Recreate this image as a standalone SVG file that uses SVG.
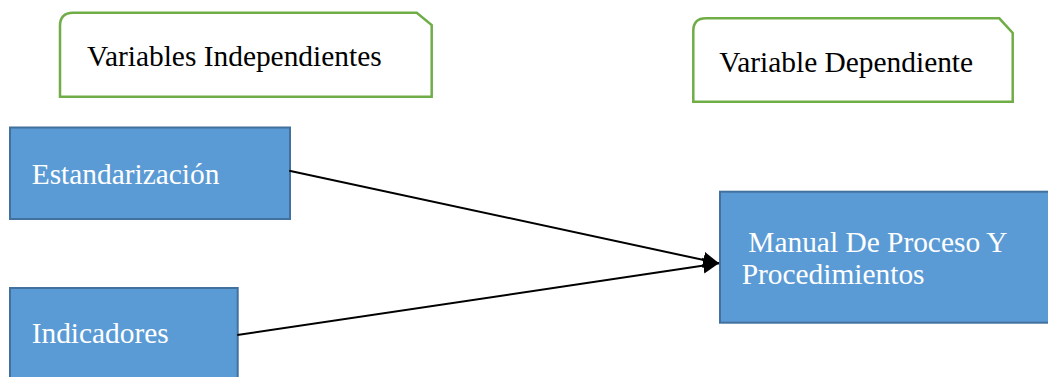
<svg xmlns="http://www.w3.org/2000/svg" width="1048" height="377" viewBox="0 0 1048 377">
<style>
.lbl{fill:#FFFFFF;stroke:#70AD47;stroke-width:2.5}
.box{fill:#5B9BD5;stroke:#41719C;stroke-width:2}
.t{font-family:"Liberation Serif","Times New Roman",serif;font-size:29.4px}
.dark{fill:#000000}
.light{fill:#FFFFFF}
.conn{stroke:#000000;stroke-width:2;fill:none}
</style>
<defs>
<marker id="arr2" viewBox="0 0 10 10" refX="10" refY="5" markerWidth="16" markerHeight="18" markerUnits="userSpaceOnUse" orient="auto">
<path d="M0,0 L10,5 L0,10 Z" fill="#000000"/>
</marker>
</defs>
<g id="label-independientes">
<path class="lbl" d="M60,96.7 L60,26 Q60,12.7 73,12.7 L416.7,12.7 L431.7,25 L431.7,96.7 Z"/>
<text class="t dark" x="87" y="66">Variables Independientes</text>
</g>
<g id="label-dependiente">
<path class="lbl" d="M693.3,101.7 L693.3,31 Q693.3,18.3 706,18.3 L999.3,18.3 L1012.7,33 L1012.7,101.7 Z"/>
<text class="t dark" x="719.3" y="72">Variable Dependiente</text>
</g>
<g id="node-estandarizacion">
<rect class="box" x="10" y="127.5" width="280" height="91.5"/>
<text class="t light" x="31.7" y="183.5">Estandarización</text>
</g>
<g id="node-indicadores">
<rect class="box" x="10" y="288" width="227.7" height="100"/>
<text class="t light" x="31.7" y="343">Indicadores</text>
</g>
<g id="node-manual">
<rect class="box" x="720" y="191.7" width="340" height="131"/>
<text class="t light" x="748.3" y="251.7">Manual De Proceso Y</text>
<text class="t light" x="741.7" y="284.3">Procedimientos</text>
</g>
<g id="connectors">
<line class="conn" x1="289.3" y1="170.7" x2="719" y2="263.3" marker-end="url(#arr2)"/>
<line class="conn" x1="237.3" y1="335" x2="719" y2="263.3" marker-end="url(#arr2)"/>
</g>
</svg>
